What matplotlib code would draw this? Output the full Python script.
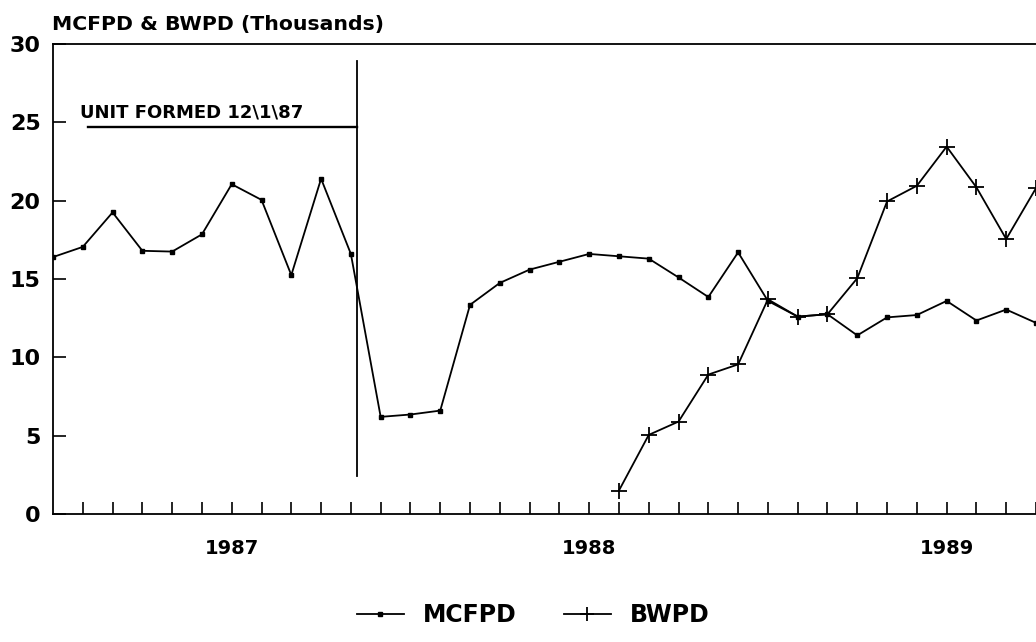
import numpy as np
import matplotlib
matplotlib.use('Agg')
import matplotlib.pyplot as plt

plt.rcParams['font.family'] = ['DejaVu Sans']
plt.rcParams['font.weight'] = 'bold'

# monthly index, month 0 = first month on the axis
months = np.arange(34)
mcfpd = [16.4, 17.05, 19.25, 16.8, 16.75, 17.85, 21.05, 20.05, 15.25, 21.4,
         16.6, 6.2, 6.35, 6.6, 13.35, 14.75, 15.6, 16.1, 16.6, 16.45,
         16.3, 15.1, 13.85, 16.7, 13.6, 12.6, 12.75, 11.4, 12.55, 12.7,
         13.6, 12.35, 13.05, 12.2]

bwpd_months = np.arange(19, 34)
bwpd = [1.5, 5.05, 5.9, 8.9, 9.55, 13.7, 12.6, 12.75, 15.05, 19.95,
        20.95, 23.45, 20.85, 17.55, 20.8]

year_ticks = [6, 18, 30]
year_labels = ['1987', '1988', '1989']

unit_formed = 10.2
unit_text = 'UNIT FORMED 12\\1\\87'

fig = plt.figure(figsize=(10.36, 6.42), dpi=100)
ax = fig.add_axes([53 / 1036, 1 - 514 / 642, 983 / 1036, 470 / 642])

ax.plot(months, mcfpd, c='black', lw=1.3, marker='s', ms=3, label='MCFPD')
ax.plot(bwpd_months, bwpd, c='black', lw=1.3, marker='+', ms=12, mew=1.3, label='BWPD')

# unit formation marker
ax.plot([unit_formed, unit_formed], [2.4, 28.9], c='black', lw=1.3)
ax.plot([1.17, unit_formed], [24.7, 24.7], c='black', lw=1.7)
ax.text(0.9, 25.3, unit_text, fontsize=13, ha='left', va='baseline')

ax.set_xlim(0, 32.77)
ax.set_ylim(0, 30)

ax.set_yticks(np.arange(0, 31, 5))
ax.set_yticklabels([str(v) for v in range(0, 31, 5)])
ax.tick_params(axis='y', direction='in', length=9, width=1.2, pad=9, labelsize=16)

ax.xaxis.remove_overlapping_locs = False
ax.set_xticks(months[1:])
ax.set_xticklabels(['' for m in months[1:]])
ax.set_xticks(year_ticks, minor=True)
ax.set_xticklabels(year_labels, minor=True)
ax.tick_params(axis='x', which='major', direction='in', length=9, width=1.2)
ax.tick_params(axis='x', which='minor', length=0, pad=18, labelsize=14)

ax.spines['right'].set_visible(False)
for s in ['left', 'top', 'bottom']:
    ax.spines[s].set_linewidth(1.3)

fig.text(52 / 1036, 1 - 30 / 642, 'MCFPD & BWPD (Thousands)', fontsize=14.7,
         ha='left', va='baseline')

fig.legend(loc='center', bbox_to_anchor=(533 / 1036, 1 - 615 / 642), ncol=2,
           frameon=False, fontsize=17, handlelength=2.0, handletextpad=0.8,
           columnspacing=2.0, numpoints=1, markerscale=0.8)

fig.savefig('out.png', dpi=100)
